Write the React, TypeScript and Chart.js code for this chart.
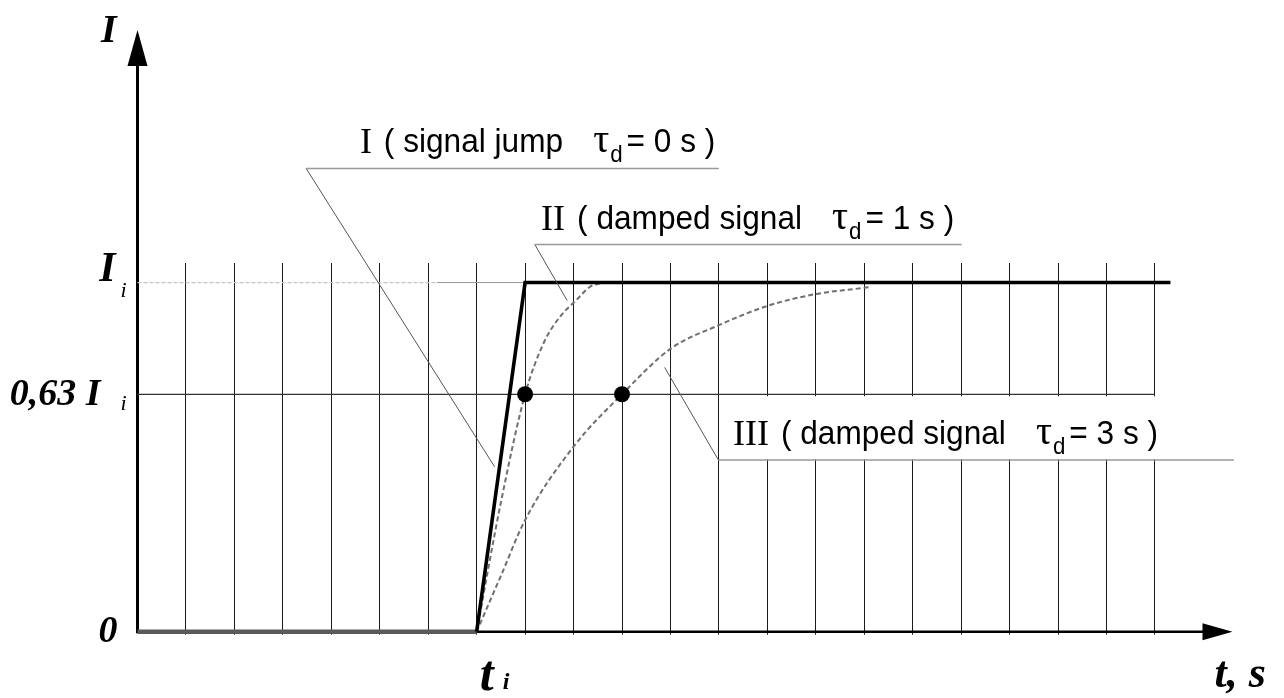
import React, { useEffect, useRef } from 'react';
import { Chart, registerables } from 'chart.js';

Chart.register(...registerables);

// x: time in grid steps (1 step = 1 s), y: current as a fraction of I_i
const baselineX = [0, 7];
const baselineY = [0, 0];
const curveIX = [7, 8, 21.32];
const curveIY = [0, 1, 1];
const curveIIX = [7, 7.5, 8, 8.38, 8.72, 9.06, 9.34, 9.55];
const curveIIY = [0, 0.37, 0.68, 0.826, 0.902, 0.95, 0.988, 0.998];
const curveIIIX = [7, 7.5, 8, 9, 10, 11, 12, 13, 14, 15, 15.15];
const curveIIIY = [0, 0.16, 0.32, 0.53, 0.68, 0.81, 0.878, 0.933, 0.967, 0.985, 0.988];
const markerX = [8, 10];
const markerY = [0.68, 0.68];
const levelIiDashedX = [0, 6.18];
const levelIiSolidX = [6.18, 8];
const levelIi = 1;
const level063X = [0, 21];
const level063 = 0.68;

const gridFirst = 1;
const gridLast = 21;
const tiValue = 7;
const xAxisEnd = 22.6;
const yAxisEnd = 1.723;

const yTickValues = [0, 0.68, 1];
const yTickMain = ['0', '0,63 I', 'I'];
const yTickSub = ['', 'i', 'i'];

// callout labels
const labelNumerals = ['I', 'II', 'III'];
const labelTexts = ['( signal jump', '( damped signal', '( damped signal'];
const labelTau = ['0', '1', '3'];
const labelAnchorX = [4.59, 8.33, 12.29];
const labelAnchorY = [1.371, 1.15, 0.535];
// leader polylines: [tip, corner, underline end]
const leaderX = [
  [7.37, 3.48, 12.0],
  [8.87, 8.2, 17.01],
  [10.88, 11.99, 22.63],
];
const leaderY = [
  [0.4725, 1.327, 1.327],
  [0.948, 1.109, 1.109],
  [0.757, 0.4917, 0.4917],
];

const pts = (xs: number[], ys: number[]) => xs.map((x, i) => ({ x, y: ys[i] }));

const SERIF = '"Liberation Serif", "Times New Roman", serif';
const SANS = '"Liberation Sans", Arial, sans-serif';
const NARROW = 0.93;

function fillNarrow(ctx: CanvasRenderingContext2D, text: string, x: number, y: number, sx: number) {
  ctx.save();
  ctx.translate(x, y);
  ctx.scale(sx, 1);
  ctx.fillText(text, 0, 0);
  ctx.restore();
  return ctx.measureText(text).width * sx;
}

const drawingPlugin = {
  id: 'drawing',
  beforeDatasetsDraw(chart: any) {
    const ctx = chart.ctx;
    const xs = chart.scales.x;
    const ys = chart.scales.y;
    const X = (v: number) => xs.getPixelForValue(v);
    const Y = (v: number) => ys.getPixelForValue(v);
    ctx.save();
    // white background of label III covering the grid
    ctx.fillStyle = '#ffffff';
    const bx = X(12.12);
    const by = Y(level063) + 2;
    ctx.fillRect(bx, by, X(22.63) - bx, Y(leaderY[2][1]) - 1 - by);

    // axes
    const x0 = X(0);
    const y0 = Y(0);
    ctx.strokeStyle = '#000';
    ctx.fillStyle = '#000';
    ctx.lineWidth = 3;
    const yTip = Y(yAxisEnd);
    ctx.beginPath();
    ctx.moveTo(x0, y0 + 1.5);
    ctx.lineTo(x0, yTip + 30);
    ctx.stroke();
    ctx.beginPath();
    ctx.moveTo(x0, yTip);
    ctx.lineTo(x0 - 10, yTip + 36);
    ctx.lineTo(x0 + 10, yTip + 36);
    ctx.closePath();
    ctx.fill();

    const xTip = X(xAxisEnd);
    ctx.lineWidth = 2.6;
    ctx.beginPath();
    ctx.moveTo(x0, y0);
    ctx.lineTo(xTip - 25, y0);
    ctx.stroke();
    ctx.beginPath();
    ctx.moveTo(xTip, y0);
    ctx.lineTo(xTip - 30, y0 - 8.5);
    ctx.lineTo(xTip - 30, y0 + 8.5);
    ctx.closePath();
    ctx.fill();
    ctx.restore();
  },
  afterDatasetsDraw(chart: any) {
    const ctx = chart.ctx;
    const xs = chart.scales.x;
    const ys = chart.scales.y;
    const X = (v: number) => xs.getPixelForValue(v);
    const Y = (v: number) => ys.getPixelForValue(v);
    ctx.save();

    // leaders
    for (let i = 0; i < leaderX.length; i++) {
      const lx = leaderX[i];
      const ly = leaderY[i];
      ctx.strokeStyle = '#555';
      ctx.lineWidth = 1;
      ctx.beginPath();
      ctx.moveTo(X(lx[0]), Y(ly[0]));
      ctx.lineTo(X(lx[1]), Y(ly[1]));
      ctx.stroke();
      ctx.strokeStyle = '#999';
      ctx.lineWidth = 1.5;
      ctx.beginPath();
      ctx.moveTo(X(lx[1]), Y(ly[1]));
      ctx.lineTo(X(lx[2]), Y(ly[2]));
      ctx.stroke();
    }

    // callout texts
    ctx.textAlign = 'left';
    ctx.textBaseline = 'alphabetic';
    ctx.fillStyle = '#000';
    for (let i = 0; i < labelNumerals.length; i++) {
      const x = X(labelAnchorX[i]);
      const y = Y(labelAnchorY[i]);
      ctx.font = `36px ${SERIF}`;
      let cx = x + fillNarrow(ctx, labelNumerals[i], x, y, 1) + 12;
      ctx.font = `34px ${SANS}`;
      cx += fillNarrow(ctx, labelTexts[i], cx, y - 1, NARROW) + 30;
      ctx.font = `42px ${SERIF}`;
      cx += fillNarrow(ctx, 'τ', cx, y - 1, 0.95) + 1;
      ctx.font = `24px ${SANS}`;
      cx += fillNarrow(ctx, 'd', cx, y + 9, NARROW) + 4;
      ctx.font = `34px ${SANS}`;
      fillNarrow(ctx, '= ' + labelTau[i] + ' s )', cx, y - 1, NARROW);
    }

    // axis labels
    const x0 = X(0);
    ctx.fillStyle = '#000';
    ctx.textAlign = 'right';
    ctx.font = `italic bold 40px ${SERIF}`;
    ctx.fillText('I', x0 - 21, Y(yAxisEnd) + 12);

    for (let i = 0; i < yTickValues.length; i++) {
      const y = Y(yTickValues[i]);
      ctx.textAlign = 'right';
      if (i === 0) {
        ctx.font = `italic bold 38px ${SERIF}`;
        ctx.fillText(yTickMain[i], x0 - 20, y + 10);
      } else if (i === 1) {
        ctx.font = `italic bold 38px ${SERIF}`;
        ctx.fillText(yTickMain[i], x0 - 37, y + 11);
        ctx.textAlign = 'left';
        ctx.font = `italic 22px ${SERIF}`;
        ctx.fillText(yTickSub[i], x0 - 17, y + 16);
      } else {
        ctx.font = `italic bold 42px ${SERIF}`;
        ctx.fillText(yTickMain[i], x0 - 22, y - 2);
        ctx.textAlign = 'left';
        ctx.font = `italic 22px ${SERIF}`;
        ctx.fillText(yTickSub[i], x0 - 17, y + 14);
      }
    }

    const y0 = Y(0);
    ctx.textAlign = 'left';
    ctx.font = `italic bold 50px ${SERIF}`;
    const tx = X(tiValue) + 3;
    ctx.fillText('t', tx, y0 + 58);
    ctx.font = `italic bold 24px ${SERIF}`;
    ctx.fillText('i', tx + 23, y0 + 57);

    ctx.font = `italic bold 44px ${SERIF}`;
    ctx.fillText('t, s', X(xAxisEnd) - 18, y0 + 55);
    ctx.restore();
  },
};

export default function App() {
  const ref = useRef<HTMLCanvasElement | null>(null);

  useEffect(() => {
    document.body.style.margin = '0';
    const canvas = ref.current;
    if (!canvas) return;
    const dashedGray = '#707070';
    const chart = new Chart(canvas, {
      type: 'line',
      data: {
        datasets: [
          {
            label: 'markers',
            data: pts(markerX, markerY),
            showLine: false,
            pointRadius: 8,
            pointBackgroundColor: '#000',
            pointBorderWidth: 0,
            clip: false,
          },
          {
            label: 'I (signal jump)',
            data: pts(curveIX, curveIY),
            borderColor: '#000',
            borderWidth: 3.6,
            pointRadius: 0,
            borderJoinStyle: 'miter',
            clip: false,
          },
          {
            label: 'II (damped 1 s)',
            data: pts(curveIIX, curveIIY),
            borderColor: dashedGray,
            borderWidth: 2,
            borderDash: [5, 3],
            pointRadius: 0,
            cubicInterpolationMode: 'monotone',
            clip: false,
          },
          {
            label: 'III (damped 3 s)',
            data: pts(curveIIIX, curveIIIY),
            borderColor: dashedGray,
            borderWidth: 2,
            borderDash: [5, 3],
            pointRadius: 0,
            cubicInterpolationMode: 'monotone',
            clip: false,
          },
          {
            label: 'zero before jump',
            data: pts(baselineX, baselineY),
            borderColor: '#5a5a5a',
            borderWidth: 4.5,
            borderCapStyle: 'butt',
            pointRadius: 0,
            clip: false,
          },
          {
            label: '0.63 level',
            data: pts(level063X, level063X.map(() => level063)),
            borderColor: '#333',
            borderWidth: 1.2,
            pointRadius: 0,
            clip: false,
          },
          {
            label: 'Ii solid',
            data: pts(levelIiSolidX, levelIiSolidX.map(() => levelIi)),
            borderColor: '#999',
            borderWidth: 1,
            pointRadius: 0,
            clip: false,
          },
          {
            label: 'Ii dashed',
            data: pts(levelIiDashedX, levelIiDashedX.map(() => levelIi)),
            borderColor: '#c4c4c4',
            borderWidth: 1.2,
            borderDash: [4, 2],
            pointRadius: 0,
            clip: false,
          },
        ],
      },
      options: {
        responsive: false,
        animation: false,
        events: [],
        layout: { padding: { left: 137.5, right: 80.6, top: 263, bottom: 66.3 } },
        plugins: { legend: { display: false }, tooltip: { enabled: false } },
        scales: {
          x: {
            type: 'linear',
            min: 0,
            max: 22,
            border: { display: false },
            ticks: { display: false, stepSize: 1 },
            grid: {
              color: (c: any) =>
                c.tick && c.tick.value >= gridFirst && c.tick.value <= gridLast ? '#1a1a1a' : 'rgba(0,0,0,0)',
              lineWidth: 1,
              drawTicks: true,
              tickLength: 3,
            },
            afterFit: (s: any) => {
              s.height = 0;
            },
          },
          y: {
            type: 'linear',
            min: 0,
            max: 1.056,
            border: { display: false },
            ticks: { display: false },
            grid: { display: false },
            afterFit: (s: any) => {
              s.width = 0;
            },
          },
        },
      } as any,
      plugins: [drawingPlugin],
    });
    return () => chart.destroy();
  }, []);

  return (
    <div style={{ position: 'absolute', left: 0, top: 0, width: 1284, height: 698, background: '#fff' }}>
      <canvas ref={ref} width={1284} height={698} style={{ display: 'block' }} />
    </div>
  );
}
